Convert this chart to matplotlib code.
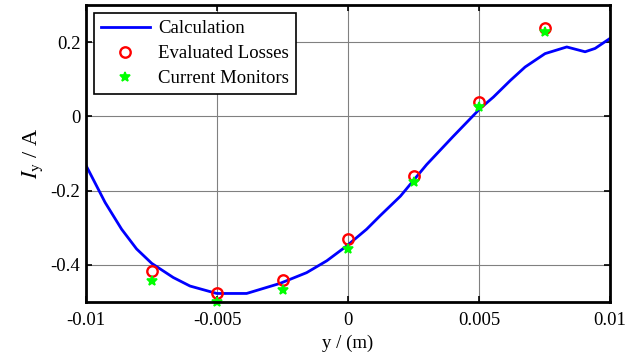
import matplotlib.pyplot as plt
import numpy as np

plt.rcParams["font.family"] = ["Liberation Serif", "DejaVu Serif"]
plt.rcParams["mathtext.fontset"] = "stix"
plt.rcParams["font.size"] = 13.5

# calculated curve
calc_x = [-0.0100, -0.00927, -0.00864, -0.00807, -0.00749, -0.00667, -0.00603,
          -0.00501, -0.00387, -0.0026, -0.00158, -0.00081, -0.00005, 0.00071,
          0.00122, 0.0020, 0.0030, 0.0040, 0.00504, 0.00555, 0.0062, 0.00676,
          0.00752, 0.00835, 0.00905, 0.00943, 0.0100]
calc_y = [-0.132, -0.232, -0.304, -0.357, -0.396, -0.434, -0.457,
          -0.477, -0.477, -0.450, -0.421, -0.389, -0.349, -0.304,
          -0.268, -0.215, -0.130, -0.055, 0.021, 0.052, 0.097, 0.133,
          0.169, 0.187, 0.174, 0.183, 0.210]

pos = [-0.0075, -0.005, -0.0025, 0.0, 0.0025, 0.005, 0.0075]
losses = [-0.416, -0.475, -0.441, -0.329, -0.160, 0.040, 0.237]
monitors = [-0.443, -0.499, -0.469, -0.356, -0.178, 0.024, 0.226]

fig = plt.figure(figsize=(6.44, 3.56), dpi=100)
ax = fig.add_axes([86 / 644, 54 / 356, 524 / 644, 297 / 356])

ax.plot(calc_x, calc_y, color="#0000ff", lw=2, label="Calculation")
ax.plot(pos, losses, "o", mfc="none", mec="#ff0000", mew=1.7, ms=7.5,
        label="Evaluated Losses")
ax.plot(pos, monitors, "*", color="#00ff00", mec="#00ff00", ms=7.5, mew=1.2,
        label="Current Monitors", clip_on=False)

ax.set_xlim(-0.01, 0.01)
ax.set_ylim(-0.5, 0.3)
ax.set_xticks([-0.01, -0.005, 0, 0.005, 0.01])
ax.set_xticklabels(["-0.01", "-0.005", "0", "0.005", "0.01"])
ax.set_yticks([-0.4, -0.2, 0, 0.2])
ax.set_yticklabels(["-0.4", "-0.2", "0", "0.2"])
ax.grid(True, color="#808080", lw=0.8)
ax.tick_params(direction="in", top=True, right=True, length=4, width=1.2)
ax.tick_params(axis="y", pad=4)
ax.tick_params(axis="x", pad=7)
for s in ax.spines.values():
    s.set_linewidth(2)

ax.set_xlabel("y / (m)", labelpad=4)
ax.set_ylabel(r"$I_{\rm y}$ / A", fontsize=16, labelpad=4)

leg = ax.legend(loc="upper left", fancybox=False, edgecolor="black",
                framealpha=1, borderaxespad=0.45, handlelength=2.6,
                labelspacing=0.42, borderpad=0.35, handletextpad=0.45,
                fontsize=13.5)
leg.get_frame().set_linewidth(1.2)

plt.savefig("out.png")
